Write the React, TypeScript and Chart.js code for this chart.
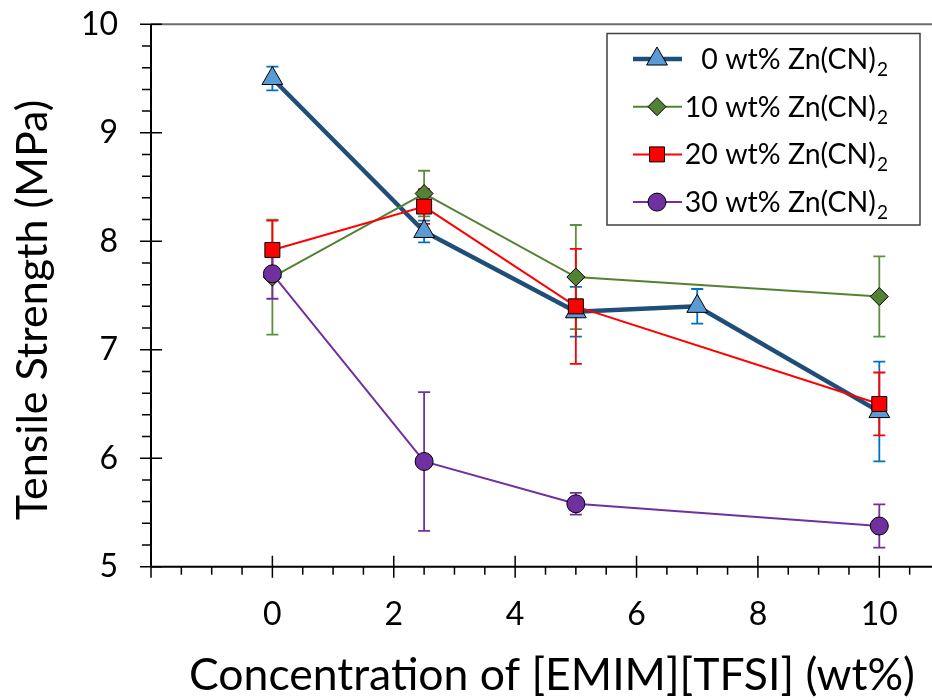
import React, { useEffect, useRef } from "react";
import { Chart, registerables } from "chart.js";

Chart.register(...registerables);

// ---------- data ----------
const concentration0 = [0, 2.5, 5, 7, 10];
const strength0 = [9.5, 8.09, 7.35, 7.4, 6.43];
const error0 = [0.11, 0.1, 0.23, 0.16, 0.46];

const concentration = [0, 2.5, 5, 10];
const strength10 = [7.67, 8.44, 7.67, 7.49];
const error10 = [0.53, 0.21, 0.48, 0.37];
const strength20 = [7.92, 8.32, 7.4, 6.5];
const error20 = [0.27, 0.16, 0.53, 0.29];
const strength30 = [7.7, 5.97, 5.58, 5.375];
const error30 = [0.23, 0.64, 0.1, 0.2];

const seriesNames = ["0 wt% Zn(CN)", "10 wt% Zn(CN)", "20 wt% Zn(CN)", "30 wt% Zn(CN)"];
const subscript = "2";

const xTickLabels = [0, 2, 4, 6, 8, 10];
const xMajorTicks = [-2, 0, 2, 4, 6, 8, 10];
const yTickLabels = [5, 6, 7, 8, 9, 10];
const xTitle = "Concentration of [EMIM][TFSI] (wt%)";
const yTitle = "Tensile Strength (MPa)";

const FONT = "Lato";

type Series = {
  name: string;
  xs: number[];
  ys: number[];
  err: number[];
  lineColor: string;
  fill: string;
  errColor: string;
  lineWidth: number;
  style: string;
  radius: number;
};

const series: Series[] = [
  { name: seriesNames[0], xs: concentration0, ys: strength0, err: error0, lineColor: "#1F4E79", fill: "#5B9BD5", errColor: "#0070C0", lineWidth: 4.5, style: "triangle", radius: 12 },
  { name: seriesNames[1], xs: concentration, ys: strength10, err: error10, lineColor: "#548235", fill: "#548235", errColor: "#5E8F3C", lineWidth: 2, style: "rectRot", radius: 9 },
  { name: seriesNames[2], xs: concentration, ys: strength20, err: error20, lineColor: "#FF0000", fill: "#FF0000", errColor: "#FF0000", lineWidth: 2, style: "rect", radius: 10.6 },
  { name: seriesNames[3], xs: concentration, ys: strength30, err: error30, lineColor: "#7030A0", fill: "#7030A0", errColor: "#7030A0", lineWidth: 2, style: "circle", radius: 9 },
];

function markerPath(ctx: CanvasRenderingContext2D, style: string, x: number, y: number, r: number) {
  ctx.beginPath();
  if (style === "triangle") {
    ctx.moveTo(x, y - r);
    ctx.lineTo(x + 0.866 * r, y + 0.5 * r);
    ctx.lineTo(x - 0.866 * r, y + 0.5 * r);
    ctx.closePath();
  } else if (style === "rectRot") {
    ctx.moveTo(x, y - r);
    ctx.lineTo(x + r, y);
    ctx.lineTo(x, y + r);
    ctx.lineTo(x - r, y);
    ctx.closePath();
  } else if (style === "rect") {
    const s = r * Math.SQRT1_2;
    ctx.rect(x - s, y - s, 2 * s, 2 * s);
  } else {
    ctx.arc(x, y, r, 0, Math.PI * 2);
  }
}

const decorPlugin = {
  id: "decor",
  beforeDatasetsDraw(chart: any) {
    const { ctx, chartArea } = chart;
    const xs = chart.scales.x;
    const ys = chart.scales.y;
    const L = chartArea.left;
    const B = chartArea.bottom;
    const T = chartArea.top;
    ctx.save();
    // top border
    ctx.strokeStyle = "#6e6e6e";
    ctx.lineWidth = 2;
    ctx.beginPath();
    ctx.moveTo(L, T);
    ctx.lineTo(chart.width, T);
    ctx.stroke();
    // axes
    ctx.strokeStyle = "#000";
    ctx.lineWidth = 2;
    ctx.beginPath();
    ctx.moveTo(L, T);
    ctx.lineTo(L, B);
    ctx.moveTo(L, B);
    ctx.lineTo(chart.width, B);
    ctx.stroke();
    ctx.lineWidth = 1.5;
    ctx.beginPath();
    // x major ticks (cross)
    xMajorTicks.forEach((v) => {
      const p = xs.getPixelForValue(v);
      ctx.moveTo(p, B - 11);
      ctx.lineTo(p, B + 11);
    });
    xMajorTicks.forEach((v) => {
      [0.5, 1, 1.5].forEach((d) => {
        const p = xs.getPixelForValue(v + d);
        ctx.moveTo(p, B);
        ctx.lineTo(p, B + 8);
      });
    });
    // y ticks
    yTickLabels.forEach((v, i) => {
      const p = ys.getPixelForValue(v);
      ctx.moveTo(L - 11, p);
      ctx.lineTo(L + 11, p);
      if (i < yTickLabels.length - 1) {
        [0.2, 0.4, 0.6, 0.8].forEach((d) => {
          const q = ys.getPixelForValue(v + d);
          ctx.moveTo(L - 9, q);
          ctx.lineTo(L, q);
        });
      }
    });
    ctx.stroke();

    // error bars
    series.forEach((s) => {
      ctx.strokeStyle = s.errColor;
      ctx.lineWidth = 1.8;
      ctx.beginPath();
      s.xs.forEach((xv, i) => {
        const px = xs.getPixelForValue(xv);
        const top = ys.getPixelForValue(s.ys[i] + s.err[i]);
        const bot = ys.getPixelForValue(s.ys[i] - s.err[i]);
        ctx.moveTo(px, top);
        ctx.lineTo(px, bot);
        ctx.moveTo(px - 6, top);
        ctx.lineTo(px + 6, top);
        ctx.moveTo(px - 6, bot);
        ctx.lineTo(px + 6, bot);
      });
      ctx.stroke();
    });
    ctx.restore();
  },
  afterDraw(chart: any) {
    const { ctx } = chart;
    ctx.save();
    ctx.fillStyle = "#000";
    // axis titles
    ctx.font = `44.5px ${FONT}`;
    ctx.textAlign = "center";
    ctx.textBaseline = "middle";
    ctx.fillText(xTitle, 552, 676);
    ctx.font = `43px ${FONT}`;
    ctx.save();
    ctx.translate(33, 310);
    ctx.rotate(-Math.PI / 2);
    ctx.fillText(yTitle, 0, 0);
    ctx.restore();

    // legend
    ctx.fillStyle = "#fff";
    ctx.fillRect(607, 33.5, 313, 191.5);
    ctx.strokeStyle = "#404040";
    ctx.lineWidth = 1.5;
    ctx.strokeRect(607, 33.5, 313, 191.5);
    series.forEach((s, i) => {
      const cy = 59 + i * 47.7;
      ctx.strokeStyle = s.lineColor;
      ctx.lineWidth = s.lineWidth;
      ctx.beginPath();
      ctx.moveTo(633, cy);
      ctx.lineTo(682, cy);
      ctx.stroke();
      markerPath(ctx, s.style, 657, cy, s.radius);
      ctx.fillStyle = s.fill;
      ctx.fill();
      ctx.strokeStyle = "#000";
      ctx.lineWidth = 1;
      ctx.stroke();
      ctx.fillStyle = "#000";
      ctx.textAlign = "left";
      ctx.textBaseline = "alphabetic";
      ctx.font = `28.5px ${FONT}`;
      const wMain = ctx.measureText(s.name).width;
      ctx.font = `19px ${FONT}`;
      const wSub = ctx.measureText(subscript).width;
      const start = 887 - wSub - wMain;
      ctx.font = `28.5px ${FONT}`;
      ctx.fillText(s.name, start, cy + 10);
      ctx.font = `19px ${FONT}`;
      ctx.fillText(subscript, start + wMain + 1, cy + 17);
    });
    ctx.restore();
  },
};

export default function App() {
  const canvasRef = useRef<HTMLCanvasElement | null>(null);

  useEffect(() => {
    if (!canvasRef.current) return;
    const datasets = series.map((s, i) => ({
      label: s.name + "\u2082",
      data: s.xs.map((x, j) => ({ x, y: s.ys[j] })),
      borderColor: s.lineColor,
      backgroundColor: s.fill,
      borderWidth: s.lineWidth,
      pointStyle: s.style,
      pointRadius: s.radius,
      pointHoverRadius: s.radius,
      pointBackgroundColor: s.fill,
      pointBorderColor: "#000",
      pointBorderWidth: 1,
      tension: 0,
      fill: false,
      order: series.length - i,
    }));
    const chart = new Chart(canvasRef.current, {
      type: "line",
      data: { datasets },
      options: {
        animation: false,
        responsive: false,
        layout: { padding: { top: 24.3, right: 20, left: 0, bottom: 0 } },
        plugins: {
          legend: { display: false },
          tooltip: { enabled: false },
        },
        scales: {
          x: {
            type: "linear",
            min: -2,
            max: 11,
            afterBuildTicks: (s: any) => {
              s.ticks = xTickLabels.map((v) => ({ value: v }));
            },
            afterFit: (s: any) => {
              s.height = 133.3;
              s.paddingLeft = 0;
              s.paddingRight = 0;
            },
            grid: { display: false, drawTicks: false },
            border: { display: false },
            ticks: { font: { family: FONT, size: 32 }, color: "#000", padding: 29, maxRotation: 0 },
          },
          y: {
            type: "linear",
            min: 5,
            max: 10,
            afterBuildTicks: (s: any) => {
              s.ticks = yTickLabels.map((v) => ({ value: v }));
            },
            afterFit: (s: any) => {
              s.width = 151;
              s.paddingTop = 0;
              s.paddingBottom = 0;
            },
            grid: { display: false, drawTicks: false },
            border: { display: false },
            ticks: { font: { family: FONT, size: 32 }, color: "#000", padding: 33 },
          },
        },
      } as any,
      plugins: [decorPlugin],
    });
    return () => chart.destroy();
  }, []);

  return (
    <div style={{ position: "fixed", left: 0, top: 0, width: 932, height: 700, overflow: "hidden", background: "#fff" }}>
      <canvas ref={canvasRef} width={960} height={700} style={{ display: "block" }} />
    </div>
  );
}
